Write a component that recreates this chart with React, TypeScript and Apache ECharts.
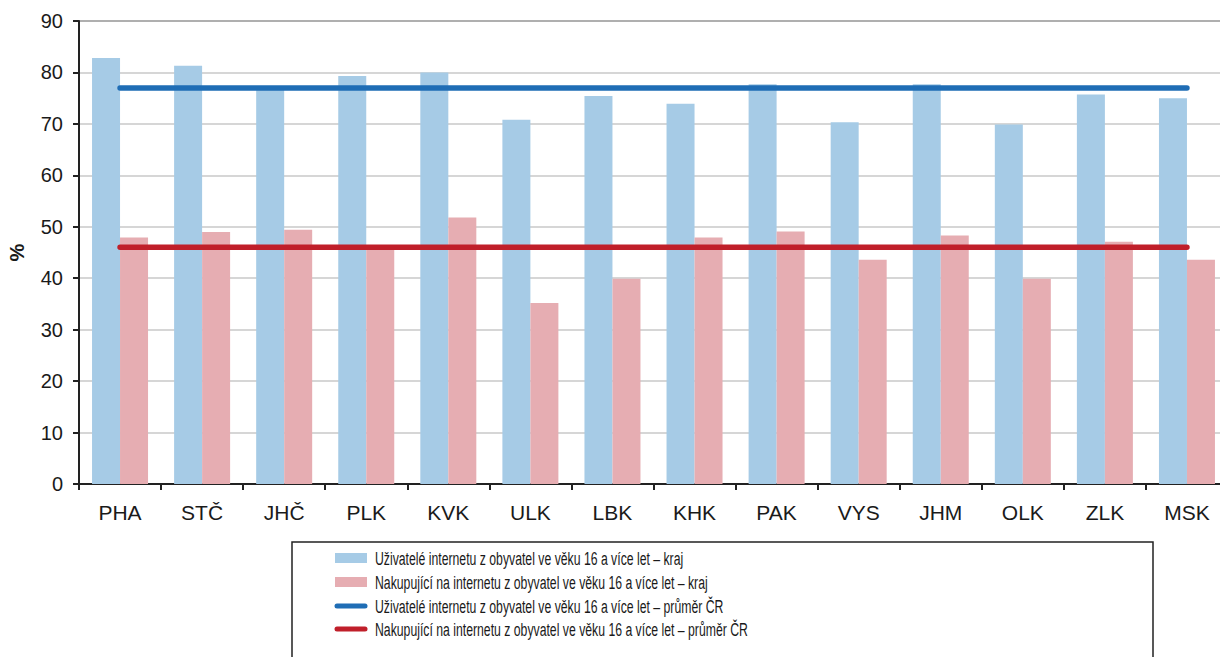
import React, { useEffect, useRef } from "react";
import * as echarts from "echarts";

const categories = ["PHA", "STČ", "JHČ", "PLK", "KVK", "ULK", "LBK", "KHK", "PAK", "VYS", "JHM", "OLK", "ZLK", "MSK"];
const usersRegion = [82.8, 81.3, 76.8, 79.3, 80.0, 70.8, 75.4, 73.9, 77.7, 70.3, 77.7, 69.9, 75.7, 75.0];
const shoppersRegion = [47.9, 49.0, 49.4, 45.6, 51.8, 35.2, 39.9, 47.9, 49.1, 43.6, 48.3, 39.9, 47.1, 43.6];
const usersAvg = [77, 77, 77, 77, 77, 77, 77, 77, 77, 77, 77, 77, 77, 77];
const shoppersAvg = [46, 46, 46, 46, 46, 46, 46, 46, 46, 46, 46, 46, 46, 46];
const seriesNames = [
  "Uživatelé internetu z obyvatel ve věku 16 a více let – kraj",
  "Nakupující na internetu z obyvatel ve věku 16 a více let – kraj",
  "Uživatelé internetu z obyvatel ve věku 16 a více let – průměr ČR",
  "Nakupující na internetu z obyvatel ve věku 16 a více let – průměr ČR",
];
const seriesColors = ["#a6cbe6", "#e6adb2", "#1f6db5", "#c01f2a"];

const FONT = "'Liberation Sans', Arial, sans-serif";

export default function App() {
  const ref = useRef<HTMLDivElement>(null);
  useEffect(() => {
    if (!ref.current) return;
    const chart = echarts.init(ref.current, undefined, { renderer: "svg" });

    const legendRows = [558, 582, 606, 629];
    const legendGraphics: any[] = [
      {
        type: "rect",
        shape: { x: 292, y: 542, width: 861, height: 140 },
        style: { fill: "none", stroke: "#222", lineWidth: 1.5 },
        silent: true,
      },
    ];
    seriesNames.forEach((name, i) => {
      const y = legendRows[i];
      if (i < 2) {
        legendGraphics.push({
          type: "rect",
          shape: { x: 335, y: y - 5, width: 32, height: 10 },
          style: { fill: seriesColors[i] },
          silent: true,
        });
      } else {
        legendGraphics.push({
          type: "line",
          shape: { x1: 337, y1: y, x2: 365, y2: y },
          style: { stroke: seriesColors[i], lineWidth: 5, lineCap: "round" },
          silent: true,
        });
      }
      legendGraphics.push({
        type: "text",
        x: 375,
        y: y,
        scaleX: 0.645,
        style: {
          text: name,
          font: "19px 'Liberation Sans', Arial, sans-serif",
          fill: "#1a1a1a",
          textVerticalAlign: "middle",
          textAlign: "left",
        },
        silent: true,
      });
    });

    chart.setOption({
      animation: false,
      backgroundColor: "#ffffff",
      grid: {
        left: 79,
        top: 21,
        width: 1149,
        height: 463,
        show: true,
        borderColor: "#333",
        borderWidth: 1.5,
        backgroundColor: "transparent",
        containLabel: false,
        outerBoundsMode: "none",
      },
      xAxis: {
        type: "category",
        data: categories,
        axisLine: { show: true, lineStyle: { color: "#222", width: 2 } },
        axisTick: { show: true, length: 6, interval: 0, lineStyle: { color: "#222", width: 2 } },
        axisLabel: { fontSize: 21, color: "#1a1a1a", fontFamily: FONT, margin: 18, interval: 0 },
        splitLine: { show: false },
      },
      yAxis: {
        type: "value",
        min: 0,
        max: 90,
        interval: 10,
        name: "%",
        nameLocation: "middle",
        nameRotate: 90,
        nameGap: 52,
        nameTextStyle: { fontSize: 20, fontWeight: "bold", color: "#1a1a1a", fontFamily: FONT },
        axisLine: { show: true, lineStyle: { color: "#222", width: 2 } },
        axisTick: { show: true, length: 6, lineStyle: { color: "#222", width: 2 } },
        axisLabel: { fontSize: 20, color: "#1a1a1a", fontFamily: FONT, margin: 16 },
        splitLine: { show: true, lineStyle: { color: "#c8c8c8", width: 1.5 } },
      },
      graphic: legendGraphics,
      series: [
        {
          name: seriesNames[0],
          type: "bar",
          data: usersRegion,
          barWidth: 28,
          barGap: "0%",
          itemStyle: { color: seriesColors[0] },
          z: 2,
        },
        {
          name: seriesNames[1],
          type: "bar",
          data: shoppersRegion,
          barWidth: 28,
          barGap: "0%",
          itemStyle: { color: seriesColors[1] },
          z: 2,
        },
        {
          name: seriesNames[2],
          type: "line",
          data: usersAvg,
          symbol: "none",
          lineStyle: { color: seriesColors[2], width: 5.5, cap: "round" },
          itemStyle: { color: seriesColors[2] },
          z: 3,
        },
        {
          name: seriesNames[3],
          type: "line",
          data: shoppersAvg,
          symbol: "none",
          lineStyle: { color: seriesColors[3], width: 5.5, cap: "round" },
          itemStyle: { color: seriesColors[3] },
          z: 3,
        },
      ],
    });
    return () => chart.dispose();
  }, []);
  return (
    <div style={{ position: "absolute", left: 0, top: 0, width: 1220, height: 657, overflow: "hidden", background: "#fff" }}>
      <div ref={ref} style={{ width: 1240, height: 657 }} />
    </div>
  );
}
